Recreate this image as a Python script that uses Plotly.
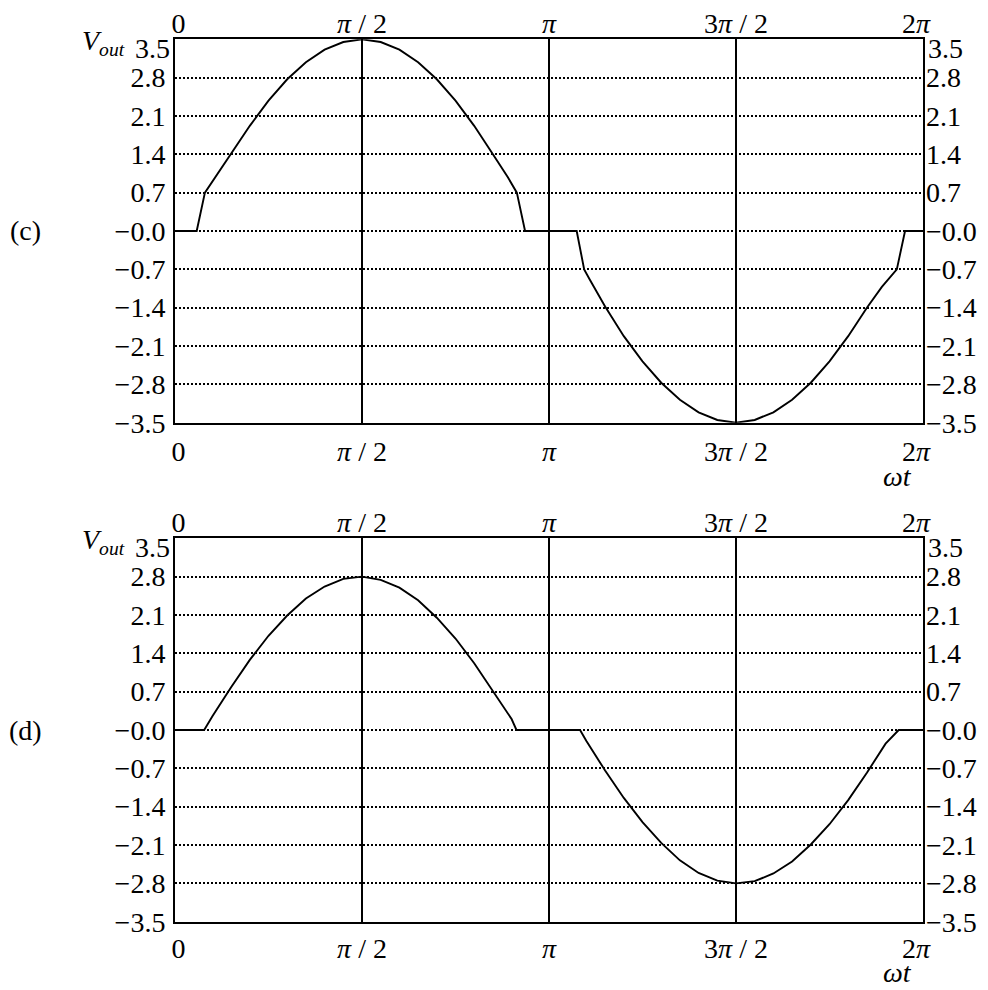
import plotly.graph_objects as go

# x positions in units of pi (omega*t / pi)
x_c = [0, 0.058, 0.080, 0.11, 0.15, 0.20, 0.25, 0.30, 0.35, 0.40, 0.45, 0.50,
       0.55, 0.60, 0.65, 0.70, 0.75, 0.80, 0.85, 0.89, 0.914, 0.936,
       1.074, 1.094, 1.11, 1.15, 1.20, 1.25, 1.30, 1.35, 1.40, 1.45, 1.50,
       1.55, 1.60, 1.65, 1.70, 1.75, 1.80, 1.85, 1.89, 1.930, 1.952, 2.0]
v_c = [0, 0, 0.70, 1.00, 1.40, 1.92, 2.38, 2.77, 3.08, 3.31, 3.45, 3.50,
       3.45, 3.31, 3.08, 2.77, 2.38, 1.92, 1.40, 0.98, 0.70, 0,
       0, -0.70, -0.90, -1.38, -1.92, -2.38, -2.77, -3.08, -3.31, -3.45, -3.50,
       -3.45, -3.31, -3.08, -2.77, -2.38, -1.92, -1.40, -1.02, -0.70, 0, 0]

x_d = [0, 0.078, 0.10, 0.15, 0.20, 0.25, 0.30, 0.35, 0.40, 0.45, 0.50,
       0.55, 0.60, 0.65, 0.70, 0.75, 0.80, 0.85, 0.90, 0.913,
       1.083, 1.10, 1.15, 1.20, 1.25, 1.30, 1.35, 1.40, 1.45, 1.50,
       1.55, 1.60, 1.65, 1.70, 1.75, 1.80, 1.85, 1.90, 1.935, 2.0]
v_d = [0, 0, 0.25, 0.78, 1.28, 1.72, 2.09, 2.40, 2.62, 2.76, 2.80,
       2.74, 2.60, 2.37, 2.05, 1.67, 1.22, 0.72, 0.20, 0,
       0, -0.20, -0.74, -1.24, -1.68, -2.06, -2.38, -2.61, -2.75, -2.80,
       -2.76, -2.62, -2.40, -2.09, -1.72, -1.28, -0.78, -0.25, 0, 0]

x_tickvals = [0, 0.5, 1, 1.5, 2]
x_ticktext = ["\u00a00", "<i>π</i> / 2", "<i>π</i>", "3<i>π</i> / 2", "2<i>π</i>\u00a0\u00a0"]
y_tickvals = [-3.5, -2.8, -2.1, -1.4, -0.7, 0.0, 0.7, 1.4, 2.1, 2.8]
y_ticktext = ["−3.5", "−2.8", "−2.1", "−1.4", "−0.7", "−0.0", "0.7", "1.4", "2.1", "2.8"]
top_label = "3.5"
panel_labels = ["(c)", "(d)"]

FONT = "Liberation Serif"
FS = 28
W, H = 988, 990
XL, XR = 175, 923
panels_px = [(39.3, 422.7), (538.3, 921.7)]
omega_bottom_px = [494, 990]

fig = go.Figure()
layout = dict(
    width=W, height=H, margin=dict(l=0, r=0, t=0, b=0, autoexpand=False),
    paper_bgcolor="white", plot_bgcolor="white", showlegend=False,
    font=dict(family=FONT, size=FS, color="black"),
)
xdom = [XL / W, XR / W]
annotations = []

for i, (xs, vs) in enumerate([(x_c, v_c), (x_d, v_d)]):
    top, bot = panels_px[i]
    ydom = [1 - bot / H, 1 - top / H]
    xm = "x" if i == 0 else "x2"
    ym = "y" if i == 0 else "y2"
    xo = "x3" if i == 0 else "x4"
    yo = "y3" if i == 0 else "y4"
    kxm = "xaxis" if i == 0 else "xaxis2"
    kym = "yaxis" if i == 0 else "yaxis2"
    kxo = "xaxis3" if i == 0 else "xaxis4"
    kyo = "yaxis3" if i == 0 else "yaxis4"

    fig.add_trace(go.Scatter(x=xs, y=vs, mode="lines", xaxis=xm, yaxis=ym,
                             line=dict(color="black", width=1.9), hoverinfo="skip"))
    fig.add_trace(go.Scatter(x=xs, y=vs, mode="lines", xaxis=xo, yaxis=yo,
                             line=dict(color="rgba(0,0,0,0)", width=0), hoverinfo="skip"))

    common_font = dict(family=FONT, size=FS, color="black")
    layout[kxm] = dict(domain=xdom, anchor=ym, range=[0, 2], tickmode="array",
                       tickvals=x_tickvals, ticktext=x_ticktext, ticks="",
                       showline=True, linecolor="black", linewidth=2, mirror=True,
                       showgrid=True, gridcolor="black", gridwidth=1.5,
                       zeroline=False, ticklabelstandoff=3 if i == 0 else 1,
                       automargin=False, tickfont=common_font)
    layout[kym] = dict(domain=ydom, anchor=xm, range=[-3.5, 3.5], tickmode="array",
                       tickvals=y_tickvals, ticktext=y_ticktext, ticks="",
                       showline=True, linecolor="black", linewidth=2, mirror=True,
                       showgrid=True, gridcolor="black", gridwidth=2, griddash="2px,2px",
                       zeroline=False, ticklabelstandoff=2, automargin=False,
                       tickfont=common_font)
    layout[kxo] = dict(overlaying=xm, anchor=yo, side="top", range=[0, 2], tickmode="array",
                       tickvals=x_tickvals, ticktext=x_ticktext, ticks="",
                       showline=False, showgrid=False, zeroline=False, ticklabelstandoff=0,
                       automargin=False, tickfont=common_font)
    layout[kyo] = dict(overlaying=ym, anchor=xo, side="right", range=[-3.5, 3.5], tickmode="array",
                       tickvals=y_tickvals, ticktext=y_ticktext, ticks="",
                       showline=False, showgrid=False, zeroline=False, ticklabelstandoff=2,
                       automargin=False, tickfont=common_font)

    # top "3.5" labels, nudged down a little as in the original
    annotations.append(dict(text=top_label, xref="paper", x=xdom[0], yref=ym, y=3.5,
                            xanchor="right", yanchor="middle", xshift=-3, yshift=-9,
                            showarrow=False, font=common_font))
    annotations.append(dict(text=top_label, xref="paper", x=xdom[1], yref=ym, y=3.5,
                            xanchor="left", yanchor="middle", xshift=3, yshift=-9,
                            showarrow=False, font=common_font))
    # panel label
    annotations.append(dict(text=panel_labels[i], xref="paper", x=25 / W, yref=ym, y=0,
                            xanchor="center", yanchor="middle",
                            showarrow=False, font=common_font))
    # V_out
    annotations.append(dict(text="<i>V</i><sub><i>out</i></sub>", xref="paper", x=127 / W,
                            yref="paper", y=1 - (top + 3) / H, xanchor="right", yanchor="middle",
                            showarrow=False, font=common_font))
    # omega t
    annotations.append(dict(text="<i>ωt</i>", xref="paper", x=897 / W,
                            yref="paper", y=1 - omega_bottom_px[i] / H,
                            xanchor="center", yanchor="bottom",
                            showarrow=False, font=common_font))

layout["annotations"] = annotations
fig.update_layout(**layout)
fig.write_html("out.html", config={"displayModeBar": False},
               post_script="document.body.style.margin='0';document.body.style.overflow='hidden';")
